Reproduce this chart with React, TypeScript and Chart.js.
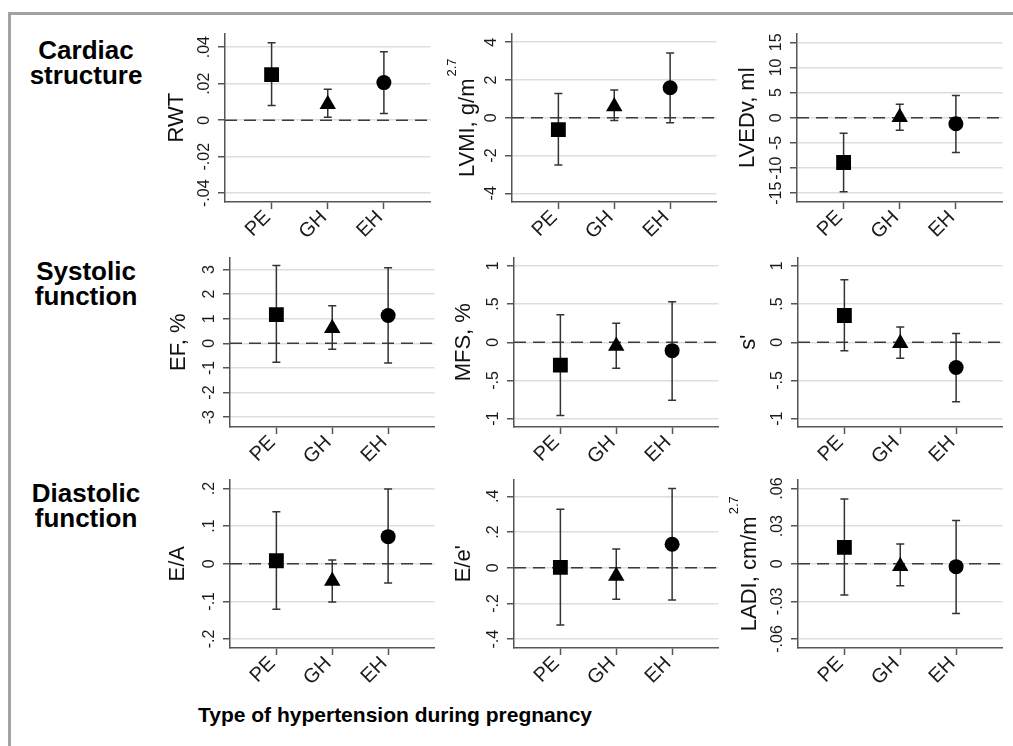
import React, { useEffect, useRef } from "react";
import { Chart, registerables } from "chart.js";

Chart.register(...registerables);

const FONT = '"Liberation Sans", Arial, Helvetica, sans-serif';

const groups = ["PE", "GH", "EH"];
const groupX = [1, 2, 3];
const markers = ["rect", "triangle", "circle"];
const markerRadius = [10.5, 9.5, 7.5];

// Cardiac structure
const rwtEst = [0.025, 0.0087, 0.0206];
const rwtLow = [0.008, 0.0016, 0.0037];
const rwtHigh = [0.0425, 0.017, 0.0375];
const rwtTicks = [-0.04, -0.02, 0, 0.02, 0.04];
const rwtTickLabels = ["-.04", "-.02", "0", ".02", ".04"];

const lvmiEst = [-0.63, 0.59, 1.59];
const lvmiLow = [-2.5, -0.15, -0.26];
const lvmiHigh = [1.28, 1.47, 3.43];
const lvmiTicks = [-4, -2, 0, 2, 4];
const lvmiTickLabels = ["-4", "-2", "0", "2", "4"];

const lvedvEst = [-8.9, 0.1, -1.2];
const lvedvLow = [-14.7, -2.5, -6.9];
const lvedvHigh = [-3.1, 2.7, 4.4];
const lvedvTicks = [-15, -10, -5, 0, 5, 10, 15];
const lvedvTickLabels = ["-15", "-10", "-5", "0", "5", "10", "15"];

// Systolic function
const efEst = [1.17, 0.61, 1.13];
const efLow = [-0.77, -0.24, -0.8];
const efHigh = [3.16, 1.53, 3.07];
const efTicks = [-3, -2, -1, 0, 1, 2, 3];
const efTickLabels = ["-3", "-2", "-1", "0", "1", "2", "3"];

const mfsEst = [-0.3, -0.05, -0.11];
const mfsLow = [-0.96, -0.34, -0.76];
const mfsHigh = [0.36, 0.25, 0.53];
const mfsTicks = [-1, -0.5, 0, 0.5, 1];
const mfsTickLabels = ["-1", "-.5", "0", ".5", "1"];

const sEst = [0.35, -0.014, -0.33];
const sLow = [-0.11, -0.21, -0.78];
const sHigh = [0.82, 0.2, 0.115];
const sTicks = [-1, -0.5, 0, 0.5, 1];
const sTickLabels = ["-1", "-.5", "0", ".5", "1"];

// Diastolic function
const eaEst = [0.008, -0.046, 0.072];
const eaLow = [-0.121, -0.102, -0.051];
const eaHigh = [0.138, 0.01, 0.199];
const eaTicks = [-0.2, -0.1, 0, 0.1, 0.2];
const eaTickLabels = ["-.2", "-.1", "0", ".1", ".2"];

const eeEst = [0.002, -0.046, 0.132];
const eeLow = [-0.32, -0.176, -0.18];
const eeHigh = [0.328, 0.105, 0.444];
const eeTicks = [-0.4, -0.2, 0, 0.2, 0.4];
const eeTickLabels = ["-.4", "-.2", "0", ".2", ".4"];

const ladiEst = [0.0131, -0.002, -0.0023];
const ladiLow = [-0.025, -0.0175, -0.0396];
const ladiHigh = [0.0517, 0.0157, 0.0345];
const ladiTicks = [-0.06, -0.03, 0, 0.03, 0.06];
const ladiTickLabels = ["-.06", "-.03", "0", ".03", ".06"];

const rowLabels = [
  ["Cardiac", "structure"],
  ["Systolic", "function"],
  ["Diastolic", "function"],
];
const xAxisTitle = "Type of hypertension during pregnancy";

type PanelCfg = {
  title: string;
  sup: string;
  est: number[];
  lo: number[];
  hi: number[];
  ticks: number[];
  labels: string[];
  min: number;
  max: number;
  box: number[];
  gap: number;
};

const panels: PanelCfg[] = [
  { title: "RWT", sup: "", est: rwtEst, lo: rwtLow, hi: rwtHigh, ticks: rwtTicks, labels: rwtTickLabels, min: -0.0448, max: 0.0475, box: [225, 29, 437, 202], gap: 42 },
  { title: "LVMI, g/m", sup: "2.7", est: lvmiEst, lo: lvmiLow, hi: lvmiHigh, ticks: lvmiTicks, labels: lvmiTickLabels, min: -4.46, max: 4.46, box: [512, 29, 723, 202], gap: 38 },
  { title: "LVEDv, ml", sup: "", est: lvedvEst, lo: lvedvLow, hi: lvedvHigh, ticks: lvedvTicks, labels: lvedvTickLabels, min: -16.74, max: 16.74, box: [797, 29, 1009, 202], gap: 43 },
  { title: "EF, %", sup: "", est: efEst, lo: efLow, hi: efHigh, ticks: efTicks, labels: efTickLabels, min: -3.4, max: 3.49, box: [230, 253, 441, 427], gap: 45 },
  { title: "MFS, %", sup: "", est: mfsEst, lo: mfsLow, hi: mfsHigh, ticks: mfsTicks, labels: mfsTickLabels, min: -1.11, max: 1.11, box: [514, 253, 725, 427], gap: 44 },
  { title: "s'", sup: "", est: sEst, lo: sLow, hi: sHigh, ticks: sTicks, labels: sTickLabels, min: -1.11, max: 1.11, box: [798, 253, 1009, 427], gap: 43 },
  { title: "E/A", sup: "", est: eaEst, lo: eaLow, hi: eaHigh, ticks: eaTicks, labels: eaTickLabels, min: -0.224, max: 0.224, box: [230, 475, 441, 648], gap: 46 },
  { title: "E/e'", sup: "", est: eeEst, lo: eeLow, hi: eeHigh, ticks: eeTicks, labels: eeTickLabels, min: -0.449, max: 0.494, box: [514, 475, 725, 648], gap: 44 },
  { title: "LADI, cm/m", sup: "2.7", est: ladiEst, lo: ladiLow, hi: ladiHigh, ticks: ladiTicks, labels: ladiTickLabels, min: -0.0672, max: 0.0672, box: [798, 475, 1009, 648], gap: 42 },
];

const PAD_L = 72;
const PAD_T = 6;
const PAD_R = 4;
const PAD_B = 46;

function Panel({ p }: { p: PanelCfg }) {
  const ref = useRef<HTMLCanvasElement>(null);
  const [l, t, r, b] = p.box;
  const W = r - l + PAD_L + PAD_R;
  const H = b - t + PAD_T + PAD_B;

  useEffect(() => {
    const canvas = ref.current;
    if (!canvas) return;
    const decor = {
      id: "panelDecor",
      beforeDatasetsDraw(chart: any) {
        const { ctx, chartArea: a, scales } = chart;
        const xs = scales.x;
        const ys = scales.y;
        ctx.save();
        const y0 = ys.getPixelForValue(0);
        ctx.strokeStyle = "#3c3c3c";
        ctx.lineWidth = 1.5;
        ctx.setLineDash([12, 7]);
        ctx.beginPath();
        ctx.moveTo(a.left, y0);
        ctx.lineTo(a.right, y0);
        ctx.stroke();
        ctx.setLineDash([]);
        ctx.strokeStyle = "#333";
        ctx.lineWidth = 1.5;
        p.est.forEach((_, i) => {
          const x = xs.getPixelForValue(groupX[i]);
          const yl = ys.getPixelForValue(p.lo[i]);
          const yh = ys.getPixelForValue(p.hi[i]);
          ctx.beginPath();
          ctx.moveTo(x, yl);
          ctx.lineTo(x, yh);
          ctx.moveTo(x - 4, yl);
          ctx.lineTo(x + 4, yl);
          ctx.moveTo(x - 4, yh);
          ctx.lineTo(x + 4, yh);
          ctx.stroke();
        });
        ctx.restore();
      },
      afterDraw(chart: any) {
        const { ctx, chartArea: a, scales } = chart;
        const ys = scales.y;
        ctx.save();
        ctx.fillStyle = "#1a1a1a";
        ctx.font = `16px ${FONT}`;
        ctx.textAlign = "center";
        ctx.textBaseline = "alphabetic";
        p.ticks.forEach((v, i) => {
          const y = ys.getPixelForValue(v);
          ctx.save();
          ctx.translate(a.left - 16, y);
          ctx.rotate(-Math.PI / 2);
          ctx.fillText(p.labels[i], 0, 0);
          ctx.restore();
        });
        // axis title
        ctx.font = `22px ${FONT}`;
        const w1 = ctx.measureText(p.title).width;
        let w2 = 0;
        if (p.sup) {
          ctx.font = `13px ${FONT}`;
          w2 = ctx.measureText(p.sup).width + 2;
        }
        const total = w1 + w2;
        ctx.translate(a.left - p.gap, (a.top + a.bottom) / 2);
        ctx.rotate(-Math.PI / 2);
        ctx.textAlign = "left";
        ctx.fillStyle = "#111";
        ctx.font = `22px ${FONT}`;
        ctx.fillText(p.title, -total / 2, 0);
        if (p.sup) {
          ctx.font = `13px ${FONT}`;
          ctx.fillText(p.sup, -total / 2 + w1 + 2, -18);
        }
        ctx.restore();
      },
    };

    const chart = new Chart(canvas, {
      type: "scatter",
      data: {
        datasets: [
          {
            data: p.est.map((v, i) => ({ x: groupX[i], y: v })),
            pointStyle: markers as any,
            pointRadius: markerRadius,
            pointHoverRadius: markerRadius,
            backgroundColor: "#000",
            borderColor: "#000",
            borderWidth: 0,
            showLine: false,
          },
        ],
      },
      options: {
        animation: false,
        responsive: false,
        maintainAspectRatio: false,
        events: [],
        layout: { padding: { left: 0, top: PAD_T, right: PAD_R, bottom: 0 } },
        plugins: { legend: { display: false }, tooltip: { enabled: false } },
        scales: {
          x: {
            type: "linear",
            position: "bottom",
            min: 0.17,
            max: 3.83,
            afterBuildTicks: (axis: any) => {
              axis.ticks = groupX.map((v) => ({ value: v }));
            },
            afterFit: (axis: any) => {
              axis.height = PAD_B;
            },
            ticks: {
              autoSkip: false,
              minRotation: 45,
              maxRotation: 45,
              padding: -3,
              labelOffset: -4,
              color: "#1a1a1a",
              font: { family: FONT, size: 20 },
              callback: (_v: any, i: number) => groups[i],
            },
            grid: {
              display: true,
              drawOnChartArea: false,
              drawTicks: true,
              tickLength: 7,
              tickColor: "#555",
              tickWidth: 1.5,
            },
            border: { display: true, color: "#555", width: 1.5 },
          },
          y: {
            type: "linear",
            position: "left",
            min: p.min,
            max: p.max,
            afterBuildTicks: (axis: any) => {
              axis.ticks = p.ticks.map((v) => ({ value: v }));
            },
            afterFit: (axis: any) => {
              axis.width = PAD_L;
            },
            ticks: { display: false },
            grid: {
              display: true,
              color: "#dddddd",
              lineWidth: 1.5,
              drawTicks: true,
              tickLength: 7,
              tickColor: "#555",
              tickWidth: 1.5,
            },
            border: { display: true, color: "#555", width: 1.5 },
          },
        },
      } as any,
      plugins: [decor],
    });
    return () => chart.destroy();
  }, []);

  return (
    <canvas
      ref={ref}
      width={W}
      height={H}
      style={{ position: "absolute", left: l - PAD_L, top: t - PAD_T, width: W, height: H }}
    />
  );
}

const rowTops = [38, 259, 481];

export default function App() {
  return (
    <div
      style={{
        position: "absolute",
        left: 0,
        top: 0,
        width: 1013,
        height: 746,
        overflow: "hidden",
        background: "#fff",
        fontFamily: FONT,
      }}
    >
      <div
        style={{
          position: "absolute",
          left: 8,
          top: 12,
          width: 1200,
          height: 1000,
          border: "3px solid #a3a3a3",
        }}
      />
      {rowLabels.map((lines, i) => (
        <div
          key={i}
          style={{
            position: "absolute",
            left: 20,
            top: rowTops[i],
            width: 132,
            textAlign: "center",
            fontWeight: "bold",
            fontSize: 26,
            lineHeight: "25px",
            color: "#000",
          }}
        >
          {lines[0]}
          <br />
          {lines[1]}
        </div>
      ))}
      {panels.map((p, i) => (
        <Panel key={i} p={p} />
      ))}
      <div
        style={{
          position: "absolute",
          left: 198,
          top: 703,
          fontWeight: "bold",
          fontSize: 21,
          lineHeight: "24px",
          whiteSpace: "nowrap",
          color: "#000",
        }}
      >
        {xAxisTitle}
      </div>
    </div>
  );
}
